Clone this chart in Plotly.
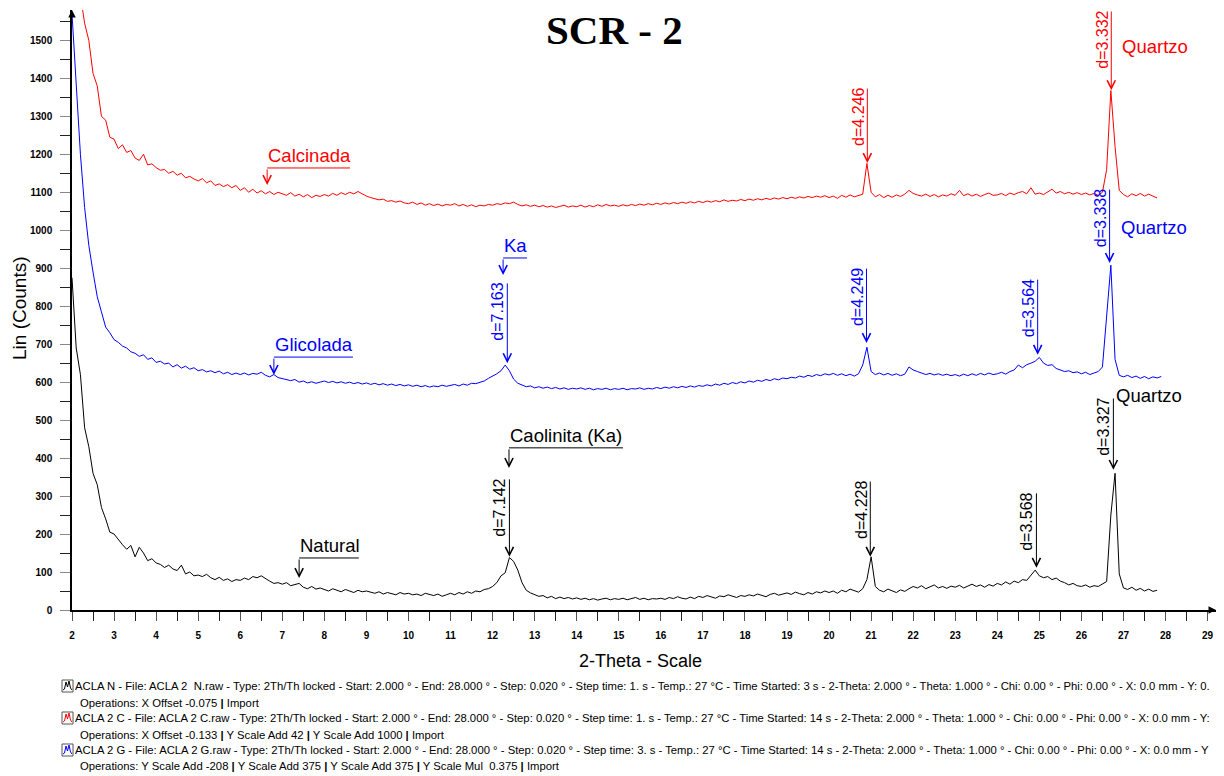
import plotly.graph_objects as go

# ---------------- data (0.1 deg steps) ----------------
x_start = 2.0
x_step = 0.1

natural = [
    875, 690, 620, 480, 430, 360, 330, 270, 240, 205,
    200, 185, 172, 160, 170, 140, 165, 150, 130, 135,
    124, 120, 112, 118, 108, 104, 118, 95, 100, 90,
    92, 88, 94, 85, 80, 86, 78, 82, 75, 80,
    78, 84, 80, 88, 85, 90, 82, 76, 70, 72,
    68, 72, 64, 66, 70, 60, 56, 62, 55, 58,
    55, 50, 56, 52, 48, 54, 50, 46, 52, 48,
    50, 46, 44, 48, 42, 46, 44, 40, 46, 42,
    44, 40, 42, 38, 44, 40, 38, 42, 36, 40,
    44, 40, 46, 42, 48, 44, 50, 48, 54, 56,
    62, 72, 90, 98, 138, 128, 105, 72, 52, 45,
    40, 36, 38, 32, 36, 30, 34, 30, 33, 29,
    32, 28, 31, 27, 30, 26, 29, 31, 27, 30,
    28, 31, 27, 30, 33, 28, 31, 27, 30, 29,
    31, 28, 33, 30, 35, 31, 29, 34, 30, 36,
    33, 38, 34, 31, 37, 35, 40, 36, 33, 38,
    36, 40, 37, 42, 38, 35, 41, 44, 39, 42,
    45, 41, 47, 43, 40, 46, 42, 48, 45, 50,
    46, 50, 44, 52, 48, 55, 50, 47, 56, 80,
    140, 62, 52, 48, 55, 50, 46, 53, 49, 56,
    62, 58, 64, 56, 60, 66, 58, 62, 57, 63,
    60, 65, 58, 64, 68, 62, 66, 60, 67, 63,
    70, 66, 74, 68, 76, 72, 80, 78, 92, 105,
    90, 85, 88, 80, 84, 76, 72, 66, 70, 64,
    62, 66, 60, 64, 62, 68, 75, 250, 360, 95,
    58, 54, 60, 52, 57, 50, 55, 49, 52,
]

calcinada = [
    1900, 1760, 1620, 1545, 1500, 1413, 1380, 1300, 1290, 1245,
    1240, 1215, 1225, 1205, 1210, 1190, 1184, 1200, 1172, 1175,
    1165, 1158, 1160, 1150, 1155, 1145, 1150, 1138, 1142, 1135,
    1130, 1136, 1125, 1130, 1118, 1122, 1115, 1120, 1112, 1118,
    1105, 1112, 1100, 1108, 1098, 1104, 1096, 1102, 1094, 1100,
    1097, 1092, 1099, 1090, 1095, 1088, 1094, 1086, 1092, 1089,
    1094, 1090, 1097, 1092, 1099, 1094, 1100, 1096, 1102, 1095,
    1090, 1086, 1084, 1080, 1082, 1076, 1078, 1074, 1077, 1072,
    1070, 1074, 1068, 1072, 1066, 1070, 1065, 1069, 1064, 1068,
    1066, 1070, 1064, 1068, 1063, 1067, 1062, 1066, 1064, 1068,
    1066, 1070, 1068, 1072, 1070, 1074, 1068, 1064, 1067, 1063,
    1066, 1062, 1065, 1061, 1064, 1060, 1063, 1066, 1061, 1064,
    1062, 1066, 1061, 1065, 1062, 1067, 1063, 1068, 1064, 1066,
    1063, 1067, 1064, 1068, 1065, 1069, 1066, 1070, 1067, 1071,
    1068, 1072, 1069, 1073, 1070, 1074, 1071, 1075, 1072, 1076,
    1073, 1077, 1074, 1078, 1075, 1080, 1076, 1079, 1077, 1081,
    1078, 1082, 1079, 1083, 1080, 1084, 1081, 1085, 1082, 1086,
    1083, 1087, 1084, 1088, 1085, 1089, 1086, 1090, 1087, 1091,
    1086, 1090, 1084, 1092, 1087, 1093, 1088, 1091, 1095, 1176,
    1100, 1088, 1094, 1086, 1092, 1087, 1093, 1089, 1095, 1105,
    1097, 1093, 1090, 1095, 1089, 1094, 1088, 1093, 1090, 1096,
    1092, 1105, 1091, 1096, 1090, 1095, 1089, 1094, 1098, 1092,
    1093, 1097, 1091, 1098, 1094, 1099, 1102, 1096, 1112, 1095,
    1098, 1094, 1100, 1108, 1098, 1102, 1096, 1100, 1095, 1099,
    1094, 1098, 1093, 1097, 1092, 1100, 1160, 1368, 1220, 1105,
    1094, 1088, 1096, 1091, 1097, 1090, 1095, 1089, 1085,
]

glicolada = [
    1570, 1380, 1200, 1060, 960, 890, 825, 785, 745, 730,
    712, 705, 695, 690, 680, 676, 668, 672, 660, 664,
    652, 655, 648, 650, 640, 646, 637, 642, 634, 638,
    630, 633, 627, 630, 625, 629, 622, 626, 620, 624,
    620, 624, 619, 623, 621, 626, 618, 614, 620, 612,
    610, 606, 604, 607, 600, 603, 598, 601, 597, 600,
    603, 599, 602, 598, 601, 597, 600, 596, 599, 595,
    598, 594, 597, 593, 596, 592, 595, 591, 594, 590,
    593, 589, 592, 588, 591, 587, 590, 588, 592, 589,
    591, 594, 590, 595, 592, 597, 596, 600, 603, 610,
    615, 622, 630, 645, 630, 608, 597, 592, 588, 590,
    585, 588, 584, 587, 583, 586, 582, 585, 581, 584,
    582, 585, 581, 584, 580, 583, 581, 584, 580, 583,
    581, 584, 580, 583, 582, 585, 581, 584, 582, 586,
    583, 587, 584, 588, 585, 589, 586, 590, 587, 591,
    589, 593, 590, 595, 592, 597, 594, 599, 596, 601,
    598, 603, 600, 605, 602, 607, 604, 609, 606, 611,
    609, 613, 611, 616, 613, 618, 615, 620, 617, 622,
    619, 623, 618, 622, 617, 621, 616, 622, 645, 692,
    628, 620, 624, 619, 623, 618, 622, 617, 621, 640,
    632, 628, 624, 620, 623, 619, 622, 618, 621, 617,
    620, 616, 621, 617, 622, 618, 623, 619, 624, 620,
    622, 626, 621, 628, 632, 645, 638, 646, 650, 655,
    665, 650, 644, 646, 636, 632, 628, 630, 625, 627,
    622, 626, 620, 624, 628, 640, 780, 908, 660, 618,
    614, 618, 612, 616, 610, 615, 609, 614, 611, 615,
]

series_names = ["Natural", "Calcinada", "Glicolada"]
series_colors = ["#000000", "#ff0000", "#0000ff"]
series_values = [natural, calcinada, glicolada]

# d-spacing labels: text, x of peak, arrow tip y, line top y, colour index
d_text = ["d=7.142", "d=4.228", "d=3.568", "d=3.327",
          "d=4.246", "d=3.332",
          "d=7.163", "d=4.249", "d=3.564", "d=3.338"]
d_x = [12.40, 20.98, 24.93, 26.76, 20.91, 26.71, 12.35, 20.89, 24.96, 26.67]
d_tip = [140, 140, 111, 369, 1177, 1369, 650, 703, 672, 914]
d_top = [348, 342, 311, 561, 1377, 1580, 864, 903, 874, 1111]
d_col = [0, 0, 0, 0, 1, 1, 2, 2, 2, 2]

# bracket labels: text, x start, x end, bracket y, arrow tip y, colour index
b_text = ["Calcinada", "Glicolada", "Natural", "Caolinita (Ka)", "Ka"]
b_x0 = [6.64, 6.80, 7.40, 12.39, 12.25]
b_x1 = [8.61, 8.68, 8.82, 15.10, 12.82]
b_y = [1164, 666, 137, 427, 927]
b_tip = [1119, 619, 84, 374, 882]
b_col = [1, 2, 0, 0, 2]

# "Quartzo" labels
q_x = [26.92, 26.89, 26.77]
q_y = [1485, 1006, 566]
q_col = [1, 2, 0]

legend_lines = [
    ("ACLA N - File: ACLA 2  N.raw - Type: 2Th/Th locked - Start: 2.000 ° - End: 28.000 ° - Step: 0.020 ° - Step time: 1. s - Temp.: 27 °C - Time Started: 3 s - 2-Theta: 2.000 ° - Theta: 1.000 ° - Chi: 0.00 ° - Phi: 0.00 ° - X: 0.0 mm - Y: 0.", 0),
    ("Operations: X Offset -0.075 <b>|</b> Import", None),
    ("ACLA 2 C - File: ACLA 2 C.raw - Type: 2Th/Th locked - Start: 2.000 ° - End: 28.000 ° - Step: 0.020 ° - Step time: 1. s - Temp.: 27 °C - Time Started: 14 s - 2-Theta: 2.000 ° - Theta: 1.000 ° - Chi: 0.00 ° - Phi: 0.00 ° - X: 0.0 mm - Y:", 1),
    ("Operations: X Offset -0.133 <b>|</b> Y Scale Add 42 <b>|</b> Y Scale Add 1000 <b>|</b> Import", None),
    ("ACLA 2 G - File: ACLA 2 G.raw - Type: 2Th/Th locked - Start: 2.000 ° - End: 28.000 ° - Step: 0.020 ° - Step time: 3. s - Temp.: 27 °C - Time Started: 14 s - 2-Theta: 2.000 ° - Theta: 1.000 ° - Chi: 0.00 ° - Phi: 0.00 ° - X: 0.0 mm - Y", 2),
    ("Operations: Y Scale Add -208 <b>|</b> Y Scale Add 375 <b>|</b> Y Scale Add 375 <b>|</b> Y Scale Mul  0.375 <b>|</b> Import", None),
]

# ---------------- layout geometry ----------------
# the page body adds an 8 px margin, so the figure is 8 px smaller each way
OFF = 8
W, H = 1224 - OFF, 776 - OFF
ML, MT = 72 - OFF, 10 - OFF
PW, PH = 1144, 600
MR = W - ML - PW
MB = H - MT - PH
FONT = "Liberation Sans, Arial, sans-serif"


def px2paper_x(px):
    return (px - OFF - ML) / PW


def py2paper_y(py):
    return (MT + PH - (py - OFF)) / PH


fig = go.Figure()

for name, col, vals in zip(series_names, series_colors, series_values):
    xs = [round(x_start + x_step * i, 2) for i in range(len(vals))]
    fig.add_trace(go.Scatter(x=xs, y=vals, mode="lines", name=name,
                             line=dict(color=col, width=1), showlegend=False,
                             hoverinfo="x+y"))

annotations = []
shapes = []

# d labels
for t, x, tip, top, c in zip(d_text, d_x, d_tip, d_top, d_col):
    col = series_colors[c]
    annotations.append(dict(x=x, y=tip, ax=x, ay=top, axref="x", ayref="y",
                            xref="x", yref="y", text="", showarrow=True,
                            arrowhead=5, arrowsize=1.6, arrowwidth=1,
                            arrowcolor=col, standoff=0))
    annotations.append(dict(x=x, y=top, xref="x", yref="y", text=t,
                            textangle=-90, xanchor="right", yanchor="top",
                            showarrow=False, xshift=0, borderpad=0,
                            font=dict(family=FONT, size=16, color=col)))

# bracket labels
for t, x0, x1, yb, tip, c in zip(b_text, b_x0, b_x1, b_y, b_tip, b_col):
    col = series_colors[c]
    shapes.append(dict(type="line", xref="x", yref="y", x0=x0, x1=x1,
                       y0=yb, y1=yb, line=dict(color=col, width=1)))
    annotations.append(dict(x=x0, y=tip, ax=x0, ay=yb, axref="x", ayref="y",
                            xref="x", yref="y", text="", showarrow=True,
                            arrowhead=5, arrowsize=1.6, arrowwidth=1,
                            arrowcolor=col, standoff=0))
    annotations.append(dict(x=x0, y=yb, xref="x", yref="y", text=t,
                            xanchor="left", yanchor="bottom", showarrow=False,
                            borderpad=0, yshift=1,
                            font=dict(family=FONT, size=18.5, color=col)))

# Quartzo labels
for x, y, c in zip(q_x, q_y, q_col):
    annotations.append(dict(x=x, y=y, xref="x", yref="y", text="Quartzo",
                            xanchor="left", yanchor="middle", showarrow=False,
                            font=dict(family=FONT, size=18.5,
                                      color=series_colors[c])))

# title and axis titles
annotations.append(dict(x=px2paper_x(614), y=py2paper_y(30), xref="paper",
                        yref="paper", text="<b>SCR - 2</b>", showarrow=False,
                        xanchor="center", yanchor="middle", borderpad=0,
                        font=dict(family="Liberation Serif, Times New Roman, serif",
                                  size=41, color="#000000")))
annotations.append(dict(x=px2paper_x(640), y=py2paper_y(661), xref="paper",
                        yref="paper", text="2-Theta - Scale", showarrow=False,
                        xanchor="center", yanchor="middle",
                        font=dict(family=FONT, size=18, color="#000000")))
annotations.append(dict(x=px2paper_x(19), y=py2paper_y(308), xref="paper",
                        yref="paper", text="Lin (Counts)", showarrow=False,
                        textangle=-90, xanchor="center", yanchor="middle",
                        font=dict(family=FONT, size=19, color="#000000")))

# axis arrows
annotations.append(dict(x=1, y=0, xref="paper", yref="paper", ax=-8, ay=0,
                        text="", showarrow=True, arrowhead=2, arrowsize=1,
                        arrowwidth=1.5, arrowcolor="#000000", standoff=0))
annotations.append(dict(x=0, y=1, xref="paper", yref="paper", ax=0, ay=8,
                        text="", showarrow=True, arrowhead=2, arrowsize=1,
                        arrowwidth=1.5, arrowcolor="#000000", standoff=0))

# legend block at the bottom
line_y = [686, 703, 718, 735, 750, 766]
for (txt, c), ly in zip(legend_lines, line_y):
    tx = 73 if c is not None else 78
    annotations.append(dict(x=px2paper_x(tx), y=py2paper_y(ly), xref="paper",
                            yref="paper", text=txt, showarrow=False,
                            xanchor="left", yanchor="middle",
                            font=dict(family=FONT, size=11.3, color="#000000")))
    if c is not None:
        col = series_colors[c]
        x0, x1 = px2paper_x(62), px2paper_x(73)
        y0, y1 = py2paper_y(ly + 6), py2paper_y(ly - 6)
        shapes.append(dict(type="rect", xref="paper", yref="paper",
                           x0=x0, x1=x1, y0=y0, y1=y1,
                           line=dict(color="#555555", width=1)))
        zz = [(63, 4), (64.5, 3), (66, -4), (67.5, 1), (69, -5), (70.5, 2), (72, 4)]
        path = "M " + " L ".join(
            f"{px2paper_x(px):.5f},{py2paper_y(ly + dy):.5f}" for px, dy in zz)
        shapes.append(dict(type="path", xref="paper", yref="paper", path=path,
                           line=dict(color=col, width=1)))

fig.update_layout(
    width=W, height=H,
    margin=dict(l=ML, r=MR, t=MT, b=MB, pad=0),
    paper_bgcolor="#ffffff", plot_bgcolor="#ffffff",
    showlegend=False,
    annotations=annotations,
    shapes=shapes,
    xaxis=dict(range=[2, 29.2], tickmode="linear", tick0=2, dtick=1,
               ticks="outside", ticklen=9, tickwidth=1, tickcolor="#555555",
               minor=dict(dtick=0.5, tick0=2, ticks="outside", ticklen=9,
                          tickcolor="#222222", tickwidth=1),
               showgrid=False, zeroline=False, showline=True,
               linecolor="#000000", linewidth=1.5,
               ticklabelstandoff=6,
               tickfont=dict(family=FONT, size=10, color="#000000",
                             weight="bold")),
    yaxis=dict(range=[0, 1580], tickmode="linear", tick0=0, dtick=100,
               ticks="outside", ticklen=10, tickwidth=1, tickcolor="#888888",
               minor=dict(dtick=50, tick0=0, ticks="outside", ticklen=10,
                          tickcolor="#222222", tickwidth=1),
               showgrid=False, zeroline=False, showline=True,
               linecolor="#000000", linewidth=1.5,
               ticklabelstandoff=6,
               tickfont=dict(family=FONT, size=10, color="#000000",
                             weight="bold")),
)

fig.write_html("out.html")
